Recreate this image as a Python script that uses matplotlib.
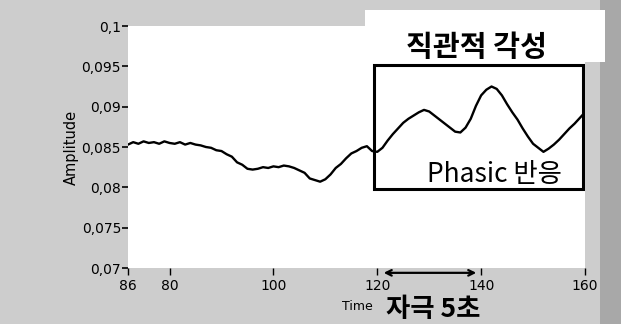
import matplotlib

matplotlib.use("Agg")

import matplotlib.pyplot as plt
from matplotlib.patches import Rectangle

# signal (seconds, amplitude)
time = list(range(72, 161))
amplitude = [
    0.0853, 0.0856, 0.0854, 0.0857, 0.0855, 0.0856, 0.0854, 0.0857, 0.0855, 0.0854,
    0.0856, 0.0853, 0.0855, 0.0853, 0.0852, 0.0850, 0.0849, 0.0846, 0.0845, 0.0841,
    0.0838, 0.0831, 0.0828, 0.0823, 0.0822, 0.0823, 0.0825, 0.0824, 0.0826, 0.0825,
    0.0827, 0.0826, 0.0824, 0.0821, 0.0818, 0.0811, 0.0809, 0.0807, 0.0810, 0.0816,
    0.0824, 0.0829, 0.0836, 0.0842, 0.0845, 0.0849, 0.0851, 0.0845, 0.0844, 0.0849,
    0.0858, 0.0866, 0.0873, 0.0880, 0.0885, 0.0889, 0.0893, 0.0896, 0.0894, 0.0889,
    0.0884, 0.0879, 0.0874, 0.0869, 0.0868, 0.0874, 0.0885, 0.0901, 0.0914, 0.0921,
    0.0925, 0.0922, 0.0914, 0.0903, 0.0893, 0.0884, 0.0873, 0.0863, 0.0854, 0.0849,
    0.0844, 0.0848, 0.0853, 0.0859, 0.0866, 0.0873, 0.0879, 0.0886, 0.0893,
]

x_ticks = [72, 80, 100, 120, 140, 160]
x_tick_labels = ["86", "80", "100", "120", "140", "160"]
y_ticks = [0.07, 0.075, 0.08, 0.085, 0.09, 0.095, 0.1]
y_tick_labels = ["0,07", "0,075", "0,08", "0,085", "0,09", "0,095", "0,1"]

box_time = (119.3, 159.7)
box_amp = (0.07985, 0.09515)
stimulus = (120.7, 139.6)

kr = ["Noto Sans CJK KR", "DejaVu Sans"]

fig = plt.figure(figsize=(6.21, 3.24), dpi=100, facecolor="#cdcdcd")
# darker strip on the right edge and pasted white patch above the box
fig.patches.append(Rectangle((600 / 621, 0), 21 / 621, 1, transform=fig.transFigure,
                             facecolor="#a8a8a8", edgecolor="none", zorder=-2))
fig.patches.append(Rectangle((365 / 621, 1 - 62 / 324), 240 / 621, 52 / 324,
                             transform=fig.transFigure, facecolor="white",
                             edgecolor="none", zorder=-1))

ax = fig.add_axes([128 / 621, 1 - 268 / 324, 457 / 621, 242 / 324])
ax.set_facecolor("white")
ax.plot(time, amplitude, color="black", linewidth=1.7)

ax.set_xlim(72, 160)
ax.set_ylim(0.07, 0.1)
ax.set_xticks(x_ticks)
ax.set_xticklabels(x_tick_labels)
ax.set_yticks(y_ticks)
ax.set_yticklabels(y_tick_labels)
for s in ax.spines.values():
    s.set_visible(False)
ax.tick_params(axis="y", direction="out", length=4, width=1.2, pad=1, labelsize=10)
ax.tick_params(axis="x", direction="out", length=5, width=1.0, pad=3, labelsize=10)
ax.set_ylabel("Amplitude", fontsize=10.5, labelpad=2)

ax.add_patch(Rectangle((box_time[0], box_amp[0]), box_time[1] - box_time[0],
                       box_amp[1] - box_amp[0], fill=False, edgecolor="black",
                       linewidth=2.2, zorder=3))
ax.text(sum(box_time) / 2 - 0.3, box_amp[1] + 0.0004, "직관적 각성", family=kr,
        fontsize=21, fontweight="bold", ha="center", va="bottom", clip_on=False)
ax.text(142.5, box_amp[0] + 0.0001, "Phasic 반응", family=kr,
        fontsize=19, fontweight="medium", ha="center", va="bottom")

ax.annotate("", xy=(stimulus[0], -0.02), xytext=(stimulus[1], -0.02),
            xycoords=("data", "axes fraction"), textcoords=("data", "axes fraction"),
            arrowprops=dict(arrowstyle="<->", color="black", lw=1.6),
            annotation_clip=False)

fig.text(357 / 621, 1 - 306 / 324, "Time", fontsize=9, ha="center", va="center")
fig.text(433 / 621, 1 / 324, "자극 5초", family=kr, fontsize=19,
         fontweight="bold", ha="center", va="bottom")

fig.savefig("out.png", dpi=100, facecolor=fig.get_facecolor())
